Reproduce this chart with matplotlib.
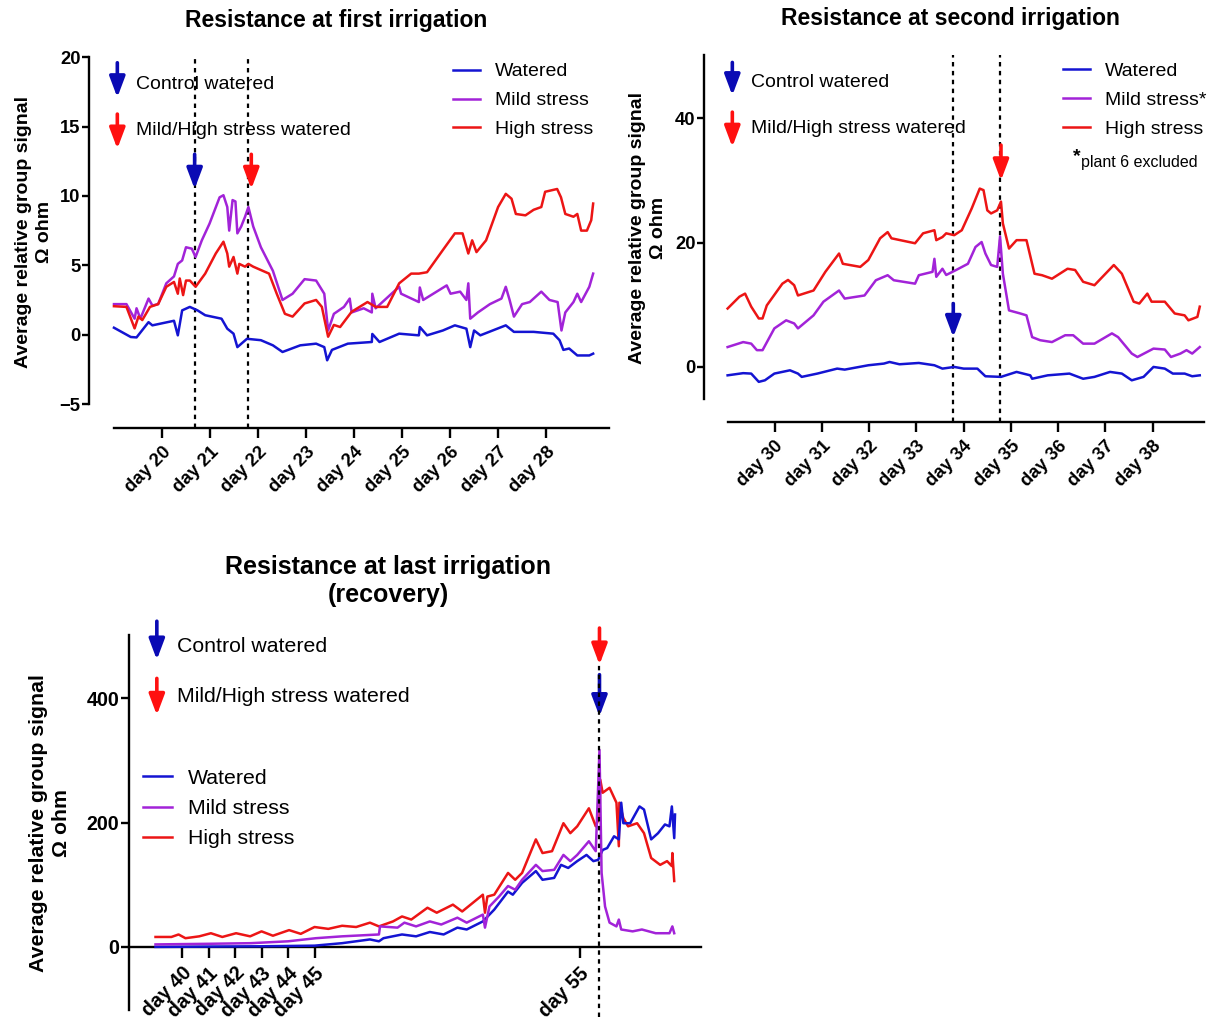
import matplotlib
matplotlib.use("Agg")
import matplotlib.pyplot as plt

plt.rcParams['font.family'] = ['Liberation Sans', 'DejaVu Sans']

C_BLUE = '#1414d2'
C_PURPLE = '#a223d8'
C_RED = '#ec1515'
A_BLUE = '#0a0ab4'
A_RED = '#ff1010'

# ---------------- Panel 1 data (first irrigation) ----------------
p1_days_watered = [19.0, 19.35, 19.47, 19.72, 19.8, 20.25, 20.33, 20.42, 20.58, 20.74, 20.9, 21.24, 21.36,
                   21.49, 21.57, 21.77, 22.06, 22.31, 22.51, 22.88, 23.21, 23.38, 23.44, 23.54, 23.87, 24.37,
                   24.38, 24.53, 24.94, 25.35, 25.37, 25.52, 25.85, 26.1, 26.34, 26.42, 26.5, 26.63, 27.16,
                   27.33, 27.74, 28.15, 28.28, 28.36, 28.48, 28.65, 28.9, 28.98]
p1_watered = [0.5, -0.17, -0.2, 0.9, 0.67, 1.0, -0.05, 1.75, 2.0, 1.75, 1.4, 1.15, 0.43,
              0.07, -0.9, -0.3, -0.4, -0.77, -1.25, -0.77, -0.65, -0.9, -1.85, -1.1, -0.65, -0.53,
              0.05, -0.53, 0.07, -0.05, 0.55, -0.05, 0.3, 0.67, 0.43, -0.9, 0.3, -0.05, 0.67,
              0.2, 0.2, 0.07, -0.4, -1.1, -1.0, -1.5, -1.5, -1.37]

p1_days_mild = [19.0, 19.26, 19.43, 19.47, 19.55, 19.72, 19.8, 19.92, 20.09, 20.25, 20.33, 20.42, 20.5, 20.62,
                20.7, 20.83, 20.99, 21.2, 21.28, 21.36, 21.4, 21.47, 21.53, 21.57, 21.65, 21.73, 21.8, 21.9,
                22.06, 22.31, 22.51, 22.72, 22.97, 23.21, 23.38, 23.46, 23.58, 23.79, 23.91, 23.95, 24.2,
                24.37, 24.38, 24.45, 24.78, 24.94, 24.98, 25.35, 25.37, 25.44, 25.93, 26.01, 26.21, 26.34,
                26.38, 26.42, 26.58, 26.83, 27.07, 27.16, 27.24, 27.33, 27.5, 27.66, 27.9, 28.07, 28.24,
                28.32, 28.4, 28.57, 28.65, 28.73, 28.9, 28.98]
p1_mild = [2.2, 2.2, 1.15, 1.9, 1.15, 2.6, 2.1, 2.2, 3.7, 4.2, 5.1, 5.35, 6.3, 6.2,
           5.6, 6.8, 8.0, 9.9, 10.05, 9.2, 7.5, 9.7, 9.6, 7.3, 7.8, 8.5, 9.2, 7.8,
           6.3, 4.6, 2.5, 2.95, 4.0, 3.9, 2.95, 0.3, 1.5, 2.0, 2.6, 1.6, 1.9,
           1.6, 2.95, 1.9, 2.95, 3.45, 2.95, 2.35, 3.4, 2.5, 3.55, 2.95, 3.1, 2.5,
           3.7, 1.15, 1.6, 2.2, 2.6, 3.45, 2.5, 1.3, 2.2, 2.35, 3.1, 2.5, 2.35,
           0.3, 1.6, 2.35, 2.95, 2.35, 3.45, 4.4]

p1_days_high = [19.0, 19.26, 19.43, 19.51, 19.59, 19.75, 19.92, 20.09, 20.25, 20.33, 20.37, 20.44, 20.5, 20.58,
                20.7, 20.9, 21.12, 21.28, 21.36, 21.4, 21.49, 21.57, 21.61, 21.73, 21.8, 21.9, 22.23, 22.39,
                22.56, 22.72, 22.97, 23.21, 23.33, 23.46, 23.58, 23.71, 23.95, 24.28, 24.45, 24.69, 24.94,
                25.19, 25.35, 25.52, 25.85, 26.1, 26.26, 26.38, 26.46, 26.55, 26.75, 27.0, 27.16, 27.28,
                27.37, 27.57, 27.74, 27.9, 27.98, 28.23, 28.31, 28.4, 28.57, 28.65, 28.73, 28.85, 28.94, 28.98]
p1_high = [2.05, 2.0, 0.45, 1.3, 1.05, 2.0, 2.2, 3.45, 3.8, 2.95, 4.05, 2.85, 3.9, 3.9,
           3.45, 4.4, 5.85, 6.7, 5.85, 4.9, 5.6, 4.4, 5.1, 4.9, 5.1, 4.9, 4.4, 2.95,
           1.5, 1.3, 2.25, 2.5, 2.0, -0.15, 0.7, 0.55, 1.65, 2.35, 2.0, 2.0, 3.7,
           4.4, 4.4, 4.5, 6.1, 7.3, 7.3, 5.85, 6.8, 5.95, 6.8, 9.2, 10.15, 9.8,
           8.7, 8.6, 9.0, 9.2, 10.3, 10.5, 9.9, 8.7, 8.5, 8.7, 7.5, 7.5, 8.25, 9.45]

p1_ticks = [20, 21, 22, 23, 24, 25, 26, 27, 28]
p1_yticks = [-5, 0, 5, 10, 15, 20]
p1_irrigation = [20.68, 21.80]

# ---------------- Panel 2 data (second irrigation) ----------------
p2_days_watered = [29.0, 29.33, 29.5, 29.66, 29.79, 29.99, 30.32, 30.49, 30.57, 30.9, 31.32, 31.48, 31.98,
                   32.31, 32.43, 32.64, 33.05, 33.38, 33.55, 33.8, 34.0, 34.29, 34.46, 34.79, 35.12, 35.41,
                   35.45, 35.78, 36.24, 36.53, 36.77, 37.1, 37.35, 37.56, 37.81, 38.02, 38.26, 38.43, 38.68,
                   38.84, 39.0]
p2_watered = [-1.35, -1.0, -1.07, -2.4, -2.15, -1.07, -0.54, -1.07, -1.6, -1.07, -0.27, -0.43, 0.27,
              0.54, 0.8, 0.43, 0.64, 0.27, -0.27, 0.0, -0.27, -0.27, -1.5, -1.6, -0.8, -1.35,
              -1.9, -1.35, -1.07, -1.9, -1.6, -0.8, -1.07, -2.15, -1.6, 0.0, -0.27, -1.07, -1.07,
              -1.5, -1.35]

p2_days_mild = [29.0, 29.33, 29.5, 29.62, 29.74, 29.99, 30.24, 30.41, 30.49, 30.82, 31.03, 31.36, 31.48, 31.9,
                32.14, 32.39, 32.52, 32.97, 33.05, 33.34, 33.38, 33.42, 33.55, 33.63, 33.84, 34.09, 34.25,
                34.38, 34.46, 34.58, 34.71, 34.77, 34.83, 34.96, 35.2, 35.33, 35.45, 35.62, 35.87, 36.15,
                36.32, 36.53, 36.77, 37.14, 37.27, 37.56, 37.68, 38.02, 38.26, 38.39, 38.59, 38.72, 38.84, 39.0]
p2_mild = [3.2, 4.0, 3.75, 2.7, 2.7, 6.2, 7.5, 7.0, 6.2, 8.3, 10.5, 12.3, 11.0, 11.5,
           13.95, 14.76, 13.95, 13.4, 14.76, 15.3, 17.4, 14.5, 15.8, 14.8, 15.6, 16.6, 19.3,
           20.1, 18.25, 16.4, 16.1, 21.0, 15.0, 9.1, 8.6, 8.3, 4.8, 4.3, 4.0, 5.1,
           5.1, 3.75, 3.75, 5.4, 4.8, 2.15, 1.6, 2.95, 2.8, 1.6, 2.15, 2.7, 2.15, 3.2]

p2_days_high = [29.0, 29.25, 29.37, 29.5, 29.66, 29.74, 29.83, 30.16, 30.28, 30.41, 30.49, 30.82, 31.07, 31.36,
                31.44, 31.81, 31.98, 32.23, 32.39, 32.47, 32.97, 33.14, 33.38, 33.42, 33.55, 33.63, 33.8,
                33.96, 34.17, 34.34, 34.42, 34.5, 34.58, 34.71, 34.79, 34.83, 34.96, 35.12, 35.33, 35.5,
                35.66, 35.87, 36.2, 36.36, 36.53, 36.77, 37.18, 37.35, 37.6, 37.72, 37.89, 37.98, 38.26,
                38.47, 38.68, 38.76, 38.95, 39.0]
p2_high = [9.4, 11.3, 11.8, 9.7, 7.8, 7.8, 9.9, 13.4, 14.0, 13.15, 11.5, 12.3, 15.3, 18.25,
           16.6, 16.1, 17.2, 20.7, 21.7, 20.7, 19.9, 21.5, 22.0, 20.4, 20.9, 21.5, 21.2,
           22.0, 25.5, 28.7, 28.45, 25.2, 24.7, 25.2, 26.6, 23.1, 19.05, 20.4, 20.4, 15.0,
           14.76, 14.2, 15.8, 15.6, 13.7, 13.15, 16.4, 15.0, 10.5, 10.2, 11.8, 10.5, 10.5,
           8.6, 8.3, 7.5, 8.05, 9.7]

p2_ticks = [30, 31, 32, 33, 34, 35, 36, 37, 38]
p2_yticks = [0, 20, 40]
p2_irrigation = [33.78, 34.76]

# ---------------- Panel 3 data (last irrigation / recovery) ----------------
p3_days_watered = [39.0, 41.0, 43.0, 45.0, 46.04, 47.09, 47.43, 47.6, 48.3, 48.83, 49.35, 49.87, 50.39, 50.74,
                   51.35, 51.78, 52.3, 52.48, 52.83, 53.35, 53.6, 54.04, 54.3, 54.57, 54.91, 55.26, 55.52,
                   55.7, 55.87, 56.04, 56.3, 56.48, 56.57, 56.65, 56.91, 57.26, 57.43, 57.7, 57.96, 58.22,
                   58.39, 58.48, 58.57, 58.6]
p3_watered = [0, 0.5, 1, 2, 6, 12, 9, 14, 20, 17, 24, 20, 31, 28,
              41, 60, 89, 84, 103, 122, 108, 111, 132, 127, 138, 148, 138,
              140, 156, 159, 178, 173, 232, 199, 199, 226, 221, 173, 183, 197,
              194, 226, 175, 213]

p3_days_mild = [39.0, 41.0, 42.6, 44.0, 45.05, 46.04, 47.43, 47.47, 48.13, 48.39, 48.83, 49.35, 49.78, 50.39,
                50.74, 51.35, 51.43, 51.6, 51.96, 52.3, 52.57, 52.83, 53.35, 53.6, 54.04, 54.39, 54.65,
                54.91, 55.35, 55.61, 55.75, 55.83, 55.96, 56.13, 56.39, 56.48, 56.57, 57.0, 57.35, 57.87,
                58.39, 58.5, 58.57]
p3_mild = [4, 5, 6, 9, 14, 17, 20, 33, 31, 39, 33, 41, 36, 47,
           39, 52, 31, 65, 81, 98, 92, 108, 132, 122, 124, 148, 138,
           148, 170, 154, 317, 119, 65, 39, 33, 44, 28, 25, 28, 22,
           22, 33, 22]

p3_days_high = [39.0, 39.6, 39.87, 40.13, 40.65, 41.09, 41.52, 42.04, 42.57, 43.0, 43.43, 44.04, 44.48, 45.0,
                45.52, 46.04, 46.57, 47.09, 47.43, 47.96, 48.3, 48.65, 49.26, 49.61, 50.22, 50.57, 51.35,
                51.43, 51.52, 51.78, 52.3, 52.57, 52.83, 53.35, 53.6, 53.96, 54.39, 54.65, 54.91, 55.35,
                55.61, 55.75, 55.78, 55.87, 56.13, 56.39, 56.48, 56.5, 56.65, 56.83, 57.17, 57.43, 57.7,
                58.04, 58.3, 58.48, 58.5, 58.57]
p3_high = [16, 16, 20, 14, 17, 22, 16, 22, 17, 25, 18, 27, 21, 32,
           29, 34, 32, 39, 33, 41, 49, 44, 63, 55, 68, 57, 84,
           55, 81, 84, 119, 108, 119, 173, 151, 154, 199, 183, 194, 223,
           194, 210, 269, 248, 256, 232, 162, 232, 207, 194, 199, 183, 143,
           132, 138, 130, 151, 106]

p3_ticks = [40, 41, 42, 43, 44, 45, 55]
p3_yticks = [0, 200, 400]
p3_irrigation = [55.75]

series_labels = ['Watered', 'Mild stress', 'High stress']

W, H = 1223, 1019
fig = plt.figure(figsize=(W / 100, H / 100), dpi=100)


def add_axes_px(left, top, right, bottom):
    return fig.add_axes([left / W, 1 - bottom / H, (right - left) / W, (bottom - top) / H])


def style_axes(ax, xfs, yfs, xlen=7, ylen=5):
    for s in ['top', 'right']:
        ax.spines[s].set_visible(False)
    for s in ['left', 'bottom']:
        ax.spines[s].set_linewidth(1.7)
    ax.tick_params(axis='both', direction='out', width=1.7)
    ax.tick_params(axis='x', length=xlen, pad=4, labelsize=xfs)
    ax.tick_params(axis='y', length=ylen, pad=1, labelsize=yfs)
    for lab in ax.get_yticklabels() + ax.get_xticklabels():
        lab.set_fontweight('bold')


def arrow(ax, x, y0, y1, color, hw=0.47, hl=1.25, lw=2.6):
    ax.annotate('', xy=(x, y1), xytext=(x, y0),
                arrowprops=dict(arrowstyle='-|>,head_length=%g,head_width=%g' % (hl, hw),
                                color=color, lw=lw, shrinkA=0, shrinkB=0,
                                mutation_scale=10))


def day_labels(ticks):
    return ['day %d' % t for t in ticks]


LW = 1.8

# ===================== Panel 1 =====================
ax1 = add_axes_px(89, 50, 609, 428)
ax1.set_xlim(18.48, 29.31)
ax1.set_ylim(-6.73, 20.52)
ax1.vlines(p1_irrigation, -6.73, 20.0, colors='black', linestyles=(0, (2, 2)), lw=1.6, zorder=1)
l1, = ax1.plot(p1_days_watered, p1_watered, color=C_BLUE, lw=LW, zorder=3)
l2, = ax1.plot(p1_days_mild, p1_mild, color=C_PURPLE, lw=LW, zorder=2)
l3, = ax1.plot(p1_days_high, p1_high, color=C_RED, lw=LW, zorder=2)
ax1.spines['left'].set_bounds(-5, 20)
ax1.spines['bottom'].set_bounds(19.0, 29.31)
ax1.set_yticks(p1_yticks)
ax1.set_xticks(p1_ticks)
ax1.set_xticklabels(day_labels(p1_ticks), rotation=45, ha='right', rotation_mode='anchor')
style_axes(ax1, 13.2, 13.2)
arrow(ax1, 19.07, 19.6, 17.1, A_BLUE)
arrow(ax1, 19.07, 15.9, 13.4, A_RED)
ax1.text(19.45, 18.0, 'Control watered', fontsize=14, va='center', ha='left')
ax1.text(19.45, 14.7, 'Mild/High stress watered', fontsize=14, va='center', ha='left')
arrow(ax1, p1_irrigation[0], 13.0, 10.5, A_BLUE)
arrow(ax1, 21.86, 13.0, 10.5, A_RED)
ax1.legend([l1, l2, l3], series_labels, loc='upper left', bbox_to_anchor=(0.70, 0.966),
           frameon=False, fontsize=14, handlelength=1.4, handletextpad=0.75,
           labelspacing=0.58, borderpad=0, borderaxespad=0)
fig.text(336 / W, 1 - 20 / H, 'Resistance at first irrigation', fontsize=16.5, fontweight='bold',
         ha='center', va='center')
fig.text(34 / W, 1 - 232 / H, 'Average relative group signal\nΩ ohm', fontsize=14, fontweight='bold',
         rotation=90, ha='center', va='center', multialignment='center', linespacing=1.35)

# ===================== Panel 2 =====================
ax2 = add_axes_px(704, 50, 1204, 422)
ax2.set_xlim(28.5, 39.09)
ax2.set_ylim(-8.86, 51.0)
ax2.vlines(p2_irrigation, -8.86, 50.2, colors='black', linestyles=(0, (2, 2)), lw=1.6, zorder=1)
m1, = ax2.plot(p2_days_watered, p2_watered, color=C_BLUE, lw=LW, zorder=3)
m2, = ax2.plot(p2_days_mild, p2_mild, color=C_PURPLE, lw=LW, zorder=2)
m3, = ax2.plot(p2_days_high, p2_high, color=C_RED, lw=LW, zorder=2)
ax2.spines['left'].set_bounds(-5.1, 50.2)
ax2.spines['bottom'].set_bounds(29.0, 39.09)
ax2.set_yticks(p2_yticks)
ax2.set_xticks(p2_ticks)
ax2.set_xticklabels(day_labels(p2_ticks), rotation=45, ha='right', rotation_mode='anchor')
style_axes(ax2, 13.2, 13.2)
arrow(ax2, 29.1, 49.0, 43.7, A_BLUE)
arrow(ax2, 29.1, 41.0, 35.4, A_RED)
ax2.text(29.5, 45.7, 'Control watered', fontsize=14, va='center', ha='left')
ax2.text(29.5, 38.4, 'Mild/High stress watered', fontsize=14, va='center', ha='left')
arrow(ax2, p2_irrigation[0], 10.2, 4.8, A_BLUE)
arrow(ax2, 34.79, 35.7, 30.0, A_RED)
ax2.legend([m1, m2, m3], ['Watered', 'Mild stress*', 'High stress'], loc='upper left',
           bbox_to_anchor=(0.718, 0.966), frameon=False, fontsize=14, handlelength=1.4,
           handletextpad=0.75, labelspacing=0.58, borderpad=0, borderaxespad=0)
fig.text(1073 / W, 1 - 157 / H, '*', fontsize=14, fontweight='bold', ha='left', va='center')
fig.text(1081 / W, 1 - 162 / H, 'plant 6 excluded', fontsize=11.5, ha='left', va='center')
fig.text(950 / W, 1 - 19 / H, 'Resistance at second irrigation', fontsize=16.5, fontweight='bold',
         ha='center', va='center')
fig.text(648 / W, 1 - 228 / H, 'Average relative group signal\nΩ ohm', fontsize=14, fontweight='bold',
         rotation=90, ha='center', va='center', multialignment='center', linespacing=1.35)

# ===================== Panel 3 =====================
ax3 = add_axes_px(129, 615, 701, 1019)
ax3.set_xlim(38.0, 59.58)
ax3.set_ylim(-116, 534)
ax3.vlines(p3_irrigation, -112, 455, colors='black', linestyles=(0, (2, 2)), lw=1.6, zorder=4)
n1, = ax3.plot(p3_days_watered, p3_watered, color=C_BLUE, lw=LW, zorder=3)
n2, = ax3.plot(p3_days_mild, p3_mild, color=C_PURPLE, lw=LW, zorder=3)
n3, = ax3.plot(p3_days_high, p3_high, color=C_RED, lw=LW, zorder=2)
ax3.spines['bottom'].set_position(('data', 0))
ax3.spines['left'].set_bounds(-101, 502)
ax3.spines['bottom'].set_bounds(38.0, 59.58)
ax3.set_yticks(p3_yticks)
ax3.set_xticks(p3_ticks)
ax3.set_xticklabels(day_labels(p3_ticks), rotation=45, ha='right', rotation_mode='anchor')
style_axes(ax3, 14.2, 14.2, xlen=8, ylen=6)
arrow(ax3, 39.05, 524, 462, A_BLUE)
arrow(ax3, 39.05, 432, 373, A_RED)
ax3.text(39.8, 483, 'Control watered', fontsize=15.3, va='center', ha='left')
ax3.text(39.8, 403, 'Mild/High stress watered', fontsize=15.3, va='center', ha='left')
arrow(ax3, p3_irrigation[0], 513, 454, A_RED)
arrow(ax3, p3_irrigation[0], 438, 371, A_BLUE)
ax3.legend([n1, n2, n3], series_labels, loc='upper left', bbox_to_anchor=(0.0245, 0.62),
           frameon=False, fontsize=15.3, handlelength=1.35, handletextpad=0.75,
           labelspacing=0.54, borderpad=0, borderaxespad=0)
fig.text(388 / W, 1 - 581 / H, 'Resistance at last irrigation\n(recovery)', fontsize=18, fontweight='bold',
         ha='center', va='center', multialignment='center', linespacing=1.2)
fig.text(50 / W, 1 - 823 / H, 'Average relative group signal\nΩ ohm', fontsize=15.3, fontweight='bold',
         rotation=90, ha='center', va='center', multialignment='center', linespacing=1.3)

fig.savefig('out.png', dpi=100)
